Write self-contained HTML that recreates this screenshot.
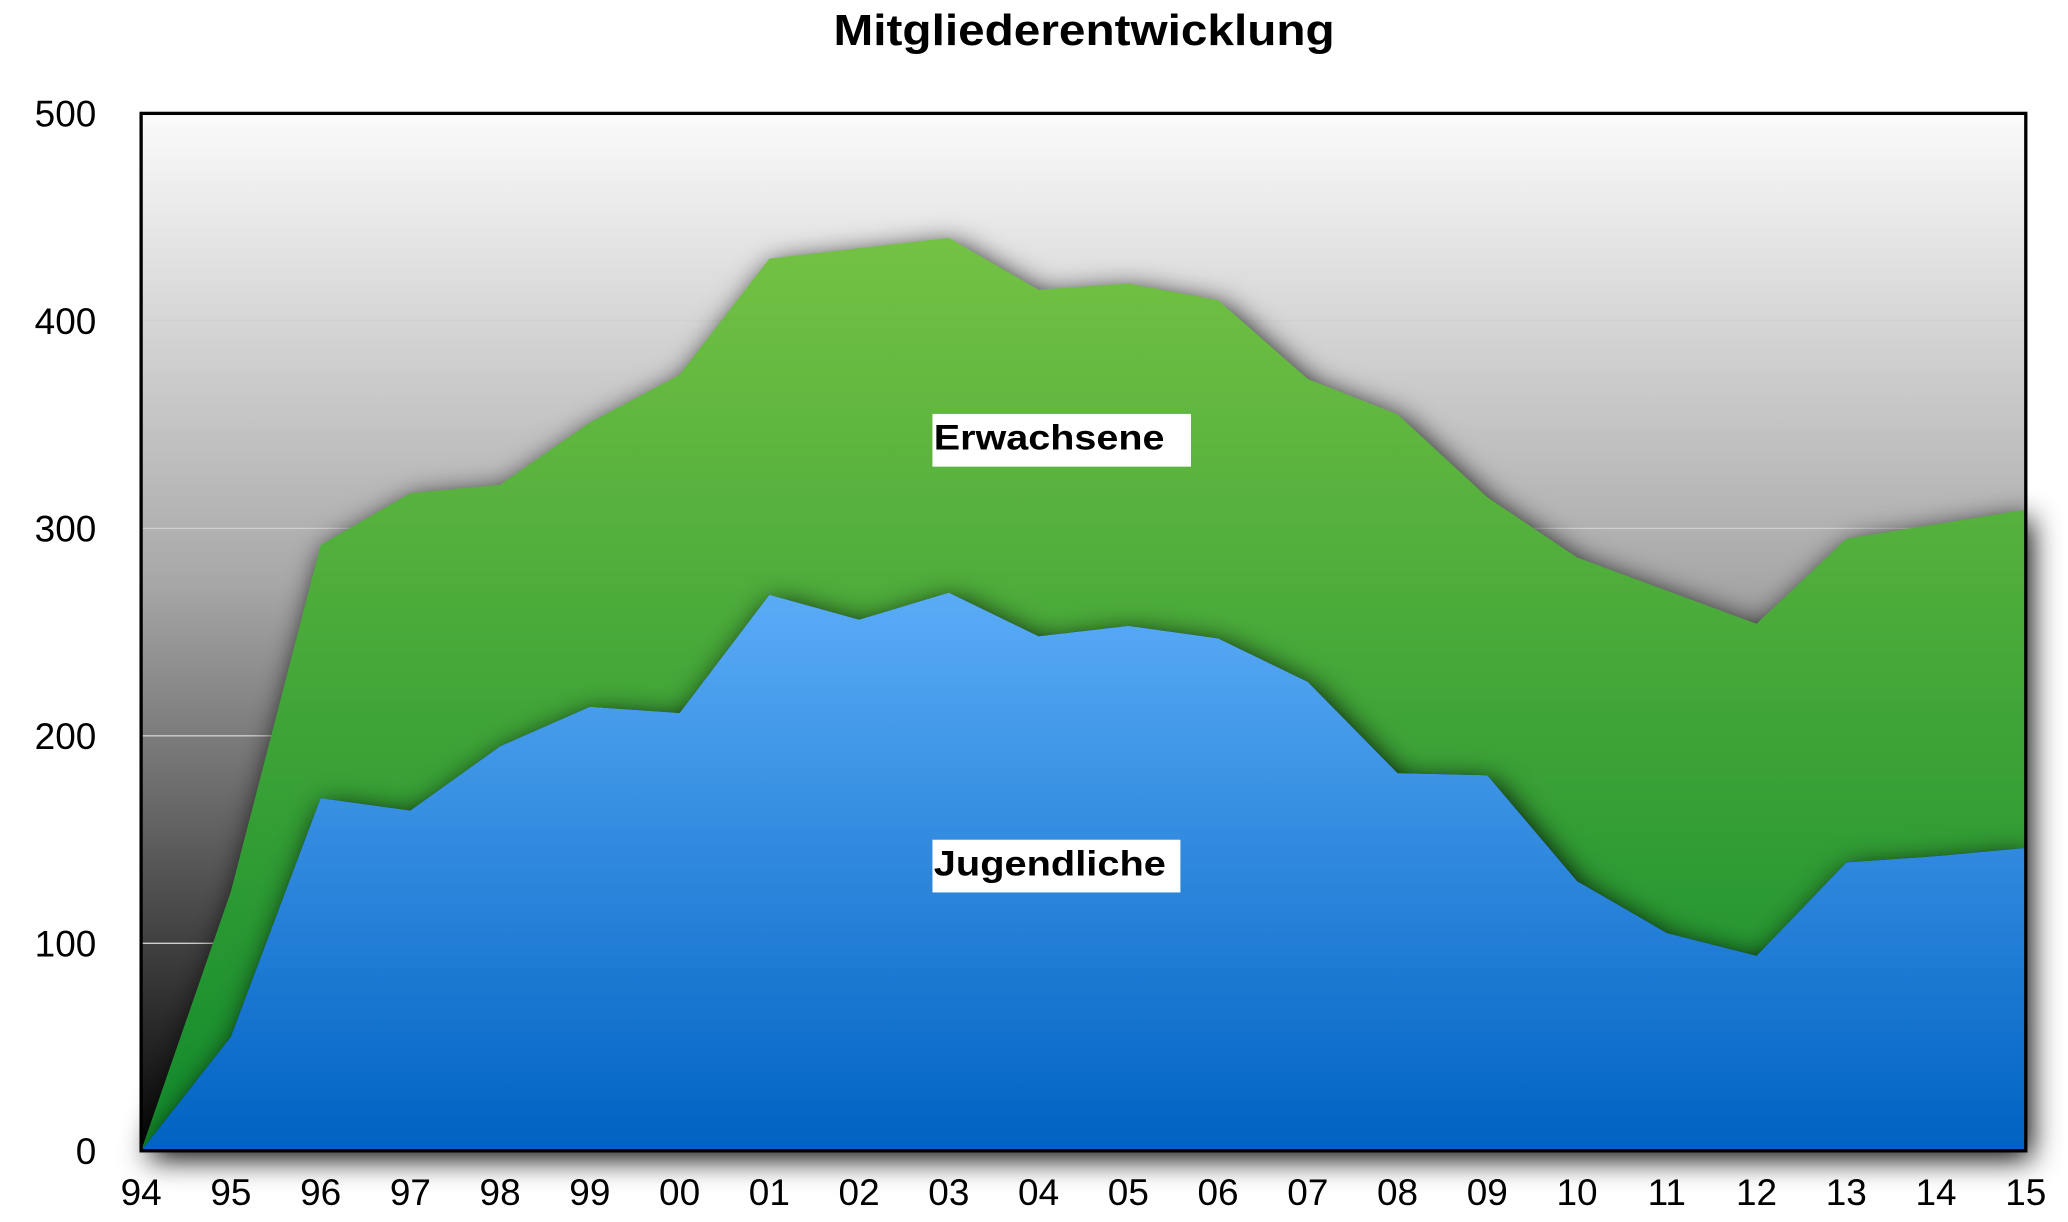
<!DOCTYPE html>
<html><head><meta charset="utf-8"><style>
html,body{margin:0;padding:0;background:#fff;}
svg{display:block;font-family:"Liberation Sans",Arial,sans-serif;}
</style></head><body>
<svg id="chart" width="2068" height="1222" viewBox="0 0 1568 927" preserveAspectRatio="none">
<defs>
<linearGradient id="bg" x1="0" y1="0" x2="0" y2="1"><stop offset="0" stop-color="#fbfbfb"/><stop offset="0.45" stop-color="#a8a8a8"/><stop offset="1" stop-color="#050505"/></linearGradient>
<linearGradient id="gG" x1="0" y1="0" x2="0" y2="1"><stop offset="0" stop-color="#74c244"/><stop offset="1" stop-color="#108a2c"/></linearGradient>
<linearGradient id="gB" x1="0" y1="0" x2="0" y2="1"><stop offset="0" stop-color="#5aacf6"/><stop offset="1" stop-color="#0062c2"/></linearGradient>
<filter id="sh" x="-5%" y="-10%" width="110%" height="120%"><feGaussianBlur stdDeviation="11"/></filter>
<clipPath id="plotClip"><rect x="107" y="86" width="1429" height="787"/></clipPath>
</defs>
<text x="822" y="34" text-anchor="middle" font-size="33" font-weight="bold" textLength="380" lengthAdjust="spacingAndGlyphs">Mitgliederentwicklung</text>
<rect x="107" y="86" width="1429" height="787" fill="url(#bg)"/>
<g id="grid"></g>
<g id="areas"></g>
<rect x="107" y="86" width="1429" height="787" fill="none" stroke="#000" stroke-width="2.5"/>
<g id="axes"></g>
<rect x="707" y="314" width="196" height="40" fill="#fff"/>
<text x="708" y="341" font-size="27" font-weight="bold" textLength="175" lengthAdjust="spacingAndGlyphs">Erwachsene</text>
<rect x="707" y="637" width="188" height="40" fill="#fff"/>
<text x="708" y="664" font-size="27" font-weight="bold" textLength="176" lengthAdjust="spacingAndGlyphs">Jugendliche</text>
</svg>
<script>
const years = ["94","95","96","97","98","99","00","01","02","03","04","05","06","07","08","09","10","11","12","13","14","15"];
const jugendliche = [0,55,170,164,195,214,211,268,256,269,248,253,247,226,182,181,130,105,94,139,142,146];
const erwachsene = [0,70,122,153,126,137,163,162,179,171,167,165,163,146,173,134,156,165,160,156,160,163];
const yTicks = [0,100,200,300,400,500];
const NS="http://www.w3.org/2000/svg";
const X0=107,X1=1536,Y0=873,Y1=86,VMAX=500;
function xs(i){return X0+(X1-X0)*i/(years.length-1);}
function ys(v){return Y0-(Y0-Y1)*v/VMAX;}
function mk(t,a,p){const e=document.createElementNS(NS,t);for(const k in a)e.setAttribute(k,a[k]);p.appendChild(e);return e;}
const grid=document.getElementById('grid'),areas=document.getElementById('areas'),axes=document.getElementById('axes');
yTicks.forEach(v=>{
 if(v>0&&v<VMAX){const l=mk('line',{x1:X0,x2:X1,y1:ys(v),y2:ys(v),stroke:'#d0d0d0','stroke-width':1},grid);
 
 }
 const t=mk('text',{x:73,y:ys(v)+10,'text-anchor':'end','font-size':28},axes);t.textContent=v;
 
 
});
years.forEach((y,i)=>{const t=mk('text',{x:xs(i),y:914,'text-anchor':'middle','font-size':28},axes);t.textContent=y;
 
 });
const totals=jugendliche.map((v,i)=>v+erwachsene[i]);
function topPts(arr){return arr.map((v,i)=>xs(i)+','+ys(v)).join(' ');}
const totPoly=topPts(totals)+' '+X1+','+Y0+' '+X0+','+Y0;
let ap=[];for(let i=0;i<years.length;i++)ap.push(xs(i)+','+ys(totals[i]));for(let i=years.length-1;i>=0;i--)ap.push(xs(i)+','+ys(jugendliche[i]));
const jugPoly=topPts(jugendliche)+' '+X1+','+Y0+' '+X0+','+Y0;
const s1=mk('polygon',{points:totPoly,fill:'#000',opacity:1,filter:'url(#sh)',transform:'translate(4,6)'},areas);


const g=mk('polygon',{points:ap.join(' '),fill:'url(#gG)'},areas);


const cg=mk('g',{'clip-path':'url(#plotClip)'},areas);
const s2=mk('polygon',{points:jugPoly,fill:'#000',opacity:1,filter:'url(#sh)',transform:'translate(4,6)'},cg);


const b=mk('polygon',{points:jugPoly,fill:'url(#gB)'},areas);


</script>
</body></html>
